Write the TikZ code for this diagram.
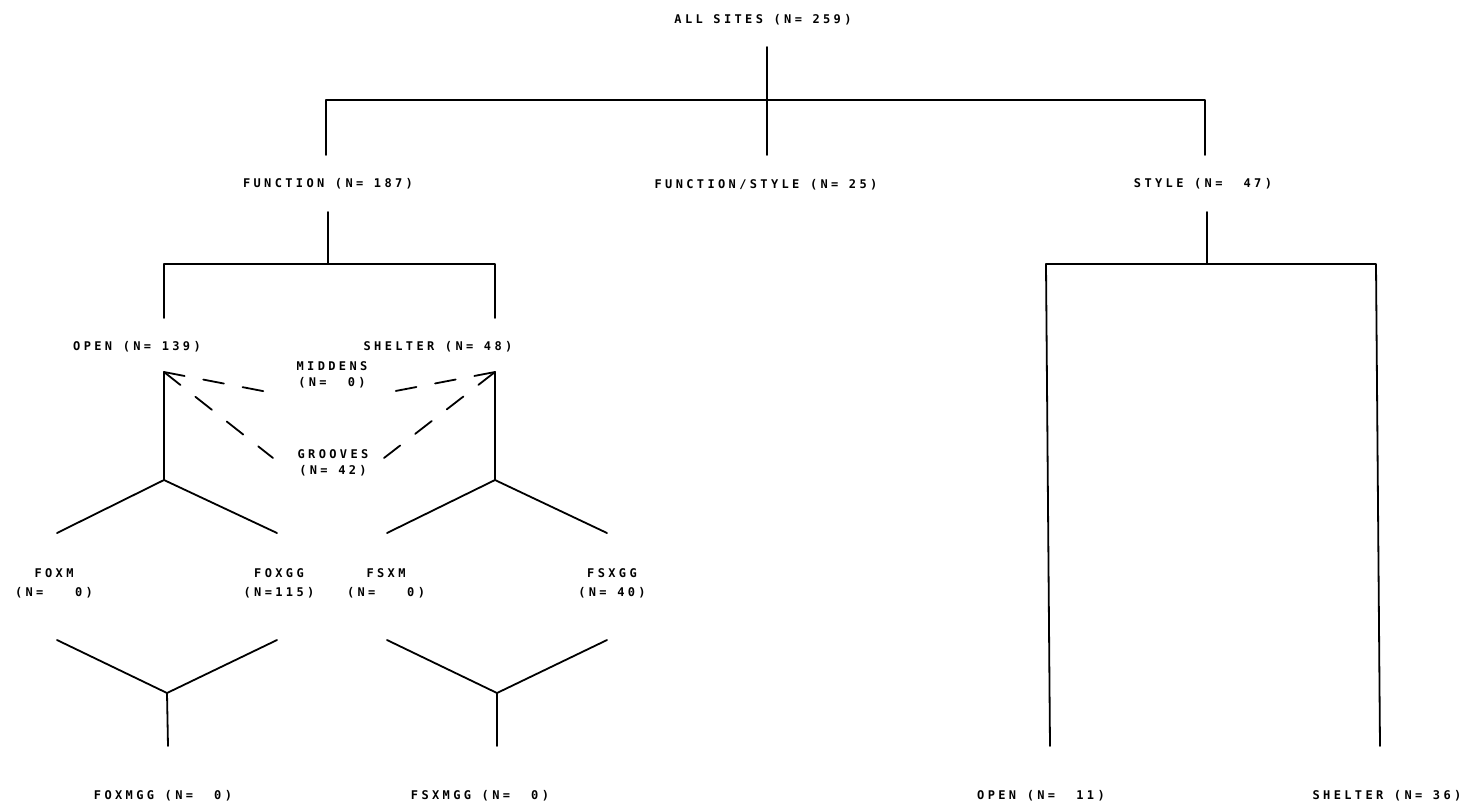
\documentclass[tikz,border=0pt]{standalone}
\usepackage{fontspec}
\usepackage{tikz}
\usetikzlibrary{calc,positioning}

\newfontfamily\plotfont[LetterSpace=28]{DejaVu Sans Mono Bold}

\begin{document}
\begin{tikzpicture}[x=0.5pt,y=-0.5pt,line width=0.9pt,line cap=round,line join=round]

   \tikzstyle{lbl}=[font={\fontsize{6}{7.8}\plotfont},inner sep=0pt,align=center]
   \tikzstyle{lblwide}=[font={\fontsize{6}{9.5}\plotfont},inner sep=0pt,align=center]
   \tikzstyle{dashlink}=[dash pattern=on 10.5pt off 9.5pt]

   \useasboundingbox (0,0) rectangle (1474,811);

   % labels
   \node[lbl] (root) at (763,20) {ALL SITES (N= 259)};
   \node[lbl] (func) at (328,184) {FUNCTION (N= 187)};
   \node[lbl] (funcsty) at (766,185) {FUNCTION/STYLE (N= 25)};
   \node[lbl] (sty) at (1203,184) {STYLE (N=~~47)};

   \node[lbl] (fopen) at (137,347) {OPEN (N= 139)};
   \node[lbl] (fshelt) at (438,347) {SHELTER (N= 48)};
   \node[lbl] (midd) at (332,375) {MIDDENS\\(N=~~0)};
   \node[lbl] (groov) at (333,463) {GROOVES\\(N= 42)};

   \node[lblwide] (foxm) at (54,583) {FOXM\\(N=~~~0)};
   \node[lblwide] (foxgg) at (279,583) {FOXGG\\(N=115)};
   \node[lblwide] (fsxm) at (386,583) {FSXM\\(N=~~~0)};
   \node[lblwide] (fsxgg) at (612,583) {FSXGG\\(N= 40)};

   \node[lbl] (foxmgg) at (163,796) {FOXMGG (N=~~0)};
   \node[lbl] (fsxmgg) at (480,796) {FSXMGG (N=~~0)};
   \node[lbl] (sopen) at (1041,796) {OPEN (N=~~11)};
   \node[lbl] (sshelt) at (1387,796) {SHELTER (N= 36)};

   % junctions
   \coordinate (rtop) at (767,47);
   \coordinate (rbot) at (767,155);
   \coordinate (rl) at (326,100);
   \coordinate (rr) at (1205,100);

   \coordinate (ftop) at (328,212);
   \coordinate (fj) at (328,264);
   \coordinate (fl) at (164,264);
   \coordinate (fr) at (495,264);

   \coordinate (stop) at (1207,212);
   \coordinate (sj) at (1207,264);
   \coordinate (sl) at (1046,264);
   \coordinate (sr) at (1376,264);

   \coordinate (otip) at (164,372);
   \coordinate (oj) at (164,480);
   \coordinate (htip) at (495,372);
   \coordinate (hj) at (495,480);

   \coordinate (ovj) at (167,693);
   \coordinate (hvj) at (497,693);

   % tree
   \draw (rtop) -- (rbot);
   \draw ($(rl)+(0,55)$) -- (rl) -- (rr) -- ($(rr)+(0,55)$);

   \draw (ftop) -- (fj);
   \draw ($(fl)+(0,54)$) -- (fl) -- (fr) -- ($(fr)+(0,54)$);

   \draw (stop) -- (sj);
   \draw (1050,746) -- (sl) -- (sr) -- (1380,746);

   \draw (otip) -- (oj);
   \draw (57,533) -- (oj) -- (277,533);
   \draw (htip) -- (hj);
   \draw (387,533) -- (hj) -- (607,533);

   \draw (57,640) -- (ovj) -- (277,640);
   \draw (ovj) -- (168,746);
   \draw (387,640) -- (hvj) -- (607,640);
   \draw (hvj) -- (497,746);

   % midden / groove links
   \draw[dashlink] (otip) -- (273,393);
   \draw[dashlink] (otip) -- (273,458);
   \draw[dashlink] (htip) -- (385,393);
   \draw[dashlink] (htip) -- (384,458);

\end{tikzpicture}
\end{document}
